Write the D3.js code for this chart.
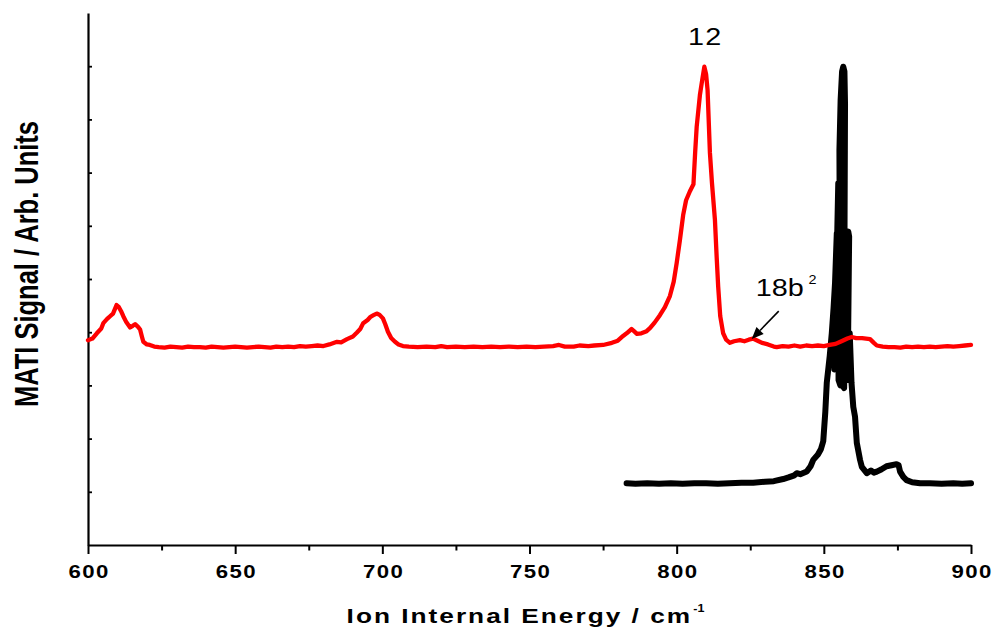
<!DOCTYPE html>
<html>
<head>
<meta charset="utf-8">
<script src="https://cdn.jsdelivr.net/npm/d3@7"></script>
<style>
  html, body { margin: 0; padding: 0; background: #fff; }
  svg { display: block; }
  text { font-family: "Liberation Sans", Arial, Helvetica, sans-serif; fill: #000; }
</style>
</head>
<body>
<svg id="chart" width="992" height="630"></svg>
<script>
// ---- data -------------------------------------------------------------
// Red trace: MATI spectrum, [energy (cm^-1), signal (arb.)]
const redSpectrum = [
  [600,3.85],[601.5,3.88],[603,3.98],[604.5,4.07],[605.2,4.17],[606.5,4.25],[607.5,4.30],[608.5,4.35],
  [609.7,4.51],[610.5,4.47],[611.2,4.40],[612,4.30],[613,4.19],[614.3,4.09],[615.2,4.12],[616,4.15],
  [617,4.10],[617.7,4.05],[618.3,3.92],[618.8,3.82],[620,3.77],[621,3.76],[622.5,3.73],[624,3.72],
  [626,3.71],[628,3.73],[630,3.72],[632,3.71],[634,3.73],[636,3.72],[638,3.72],[640,3.71],[642,3.73],
  [644,3.72],[646,3.71],[648,3.72],[650,3.73],[652,3.72],[654,3.71],[656,3.72],[658,3.73],[660,3.72],
  [662,3.71],[664,3.73],[666,3.72],[668,3.73],[670,3.72],[672,3.74],[674,3.73],[676,3.74],[678,3.75],
  [680,3.74],[682,3.77],[684.6,3.82],[686,3.81],[688,3.87],[690,3.92],[691.3,3.99],[692.5,4.06],
  [693.5,4.17],[695,4.23],[696,4.29],[697,4.32],[698.1,4.35],[699,4.33],[700.2,4.26],[701,4.15],
  [701.9,4.01],[703,3.89],[704.3,3.82],[705.5,3.77],[707,3.74],[709,3.73],[712,3.72],[715,3.73],
  [718,3.72],[720,3.74],[722,3.72],[725,3.73],[728,3.72],[731,3.73],[734,3.72],[737,3.73],[740,3.72],
  [743,3.73],[746,3.72],[749,3.73],[752,3.72],[755,3.73],[758,3.74],[760,3.76],[762,3.73],[765,3.73],
  [767,3.75],[770,3.74],[772,3.75],[775,3.76],[778,3.80],[780,3.84],[781.8,3.93],[783,3.98],
  [784.7,4.06],[785.5,4.02],[786.5,3.97],[788,3.98],[789.8,4.02],[791,4.08],[792.5,4.18],[794.3,4.32],
  [796,4.47],[797.7,4.68],[799,4.95],[800,5.30],[801.1,5.73],[802.2,6.20],[803.2,6.48],[804.5,6.65],
  [805.7,6.78],[806.3,7.40],[806.8,7.86],[807.9,8.46],[808.7,8.75],[809.4,8.99],[810,8.85],[810.5,8.55],
  [811.3,7.37],[812,6.80],[813,6.11],[813.6,5.40],[814.1,4.86],[814.8,4.30],[815.8,3.98],[816.8,3.86],
  [818.1,3.80],[819.5,3.83],[821.5,3.85],[823,3.83],[824.5,3.86],[825.9,3.88],[827.5,3.84],[829,3.80],
  [831,3.77],[833,3.73],[834,3.72],[836,3.74],[838,3.73],[840,3.75],[842,3.73],[844,3.75],[846,3.74],
  [848,3.75],[850,3.74],[852,3.76],[854,3.78],[856,3.83],[858,3.88],[859.5,3.91],[861,3.89],[863,3.89],
  [865.7,3.87],[867,3.80],[868,3.75],[870,3.73],[872,3.72],[874,3.72],[876,3.71],[878,3.73],[880,3.72],
  [882,3.73],[884,3.72],[886,3.73],[888,3.72],[890,3.73],[892,3.74],[894,3.73],[896,3.74],[898,3.75],
  [900,3.76]
];

// Black trace: second MATI scan (overlapping passes around the strong band)
const blackSpectrum = [
  [783,1.16],[786,1.15],[790,1.16],[794,1.15],[798,1.16],[802,1.15],[806,1.16],[810,1.16],[814,1.15],
  [818,1.16],[822,1.17],[826,1.17],[830,1.19],[833,1.20],[836.2,1.24],[838,1.27],[840,1.31],[840.8,1.35],
  [842,1.33],[844.2,1.38],[845.5,1.48],[846.4,1.60],[848,1.70],[849,1.80],[849.8,1.95],[850.5,2.50],
  [851.0,3.05],[852.0,3.55],[852.7,3.98],[853.3,4.45],[853.8,4.92],[854.4,5.86],[854.3,3.60],[853.6,3.30],
  [854.9,6.80],[855.0,3.10],[855.6,3.00],[855.3,7.42],[855.7,8.36],[856.2,8.90],[856.6,8.99],[857.0,8.90],
  [857.2,8.30],[857.0,5.50],[856.3,3.00],[856.9,2.95],[857.6,5.90],[858.3,5.89],[858.6,5.80],[858.1,3.10],
  [858.8,3.98],[859.4,3.05],[860.0,2.60],[860.6,2.41],[861.2,1.92],[862.3,1.60],[862.9,1.47],[864.6,1.35],
  [866,1.40],[867,1.36],[868,1.38],[869.5,1.42],[871.3,1.48],[873,1.50],[874.7,1.52],[875.4,1.50],
  [875.9,1.38],[877,1.28],[878.1,1.22],[880,1.18],[882.7,1.16],[886,1.16],[890,1.15],[894,1.16],
  [897,1.15],[900,1.16]
];

const xMajorTicks = [600, 650, 700, 750, 800, 850, 900];
const xMinorTicks = [625, 675, 725, 775, 825, 875];
const yTicks = [1, 2, 3, 4, 5, 6, 7, 8, 9];

const xTitle = "Ion Internal Energy / cm";
const xTitleSup = "-1";
const yTitle = "MATI Signal / Arb. Units";

// peak labels: [energy, signal] of the labelled point
const peak12 = { text: "12", at: [809.4, 8.99] };
const peak18b = { text: "18b", sup: "2", at: [825.5, 3.87] };

// ---- layout -----------------------------------------------------------
const margin = { left: 88, right: 21, top: 13, bottom: 85 };
const W = 992, H = 630;

const svg = d3.select("#chart");

const x = d3.scaleLinear().domain([600, 900]).range([margin.left, W - margin.right]);
const y = d3.scaleLinear().domain([0, 10]).range([H - margin.bottom, margin.top]);

// ---- axes -------------------------------------------------------------
const gx = svg.append("g").attr("transform", `translate(0,${y(0)})`);
gx.call(d3.axisBottom(x).tickValues(xMajorTicks).tickSize(9).tickSizeOuter(0).tickFormat(d3.format("d")));
gx.select(".domain").attr("stroke-width", 2.2);
gx.selectAll(".tick line").attr("stroke-width", 2);
gx.selectAll(".tick text")
  .attr("y", 33).attr("dy", 0).attr("dx", 0.6)
  .attr("transform", "scale(1.2,1)")
  .style("font-size", "18.5px").style("font-weight", "bold").style("letter-spacing", "1.2px");

const gxMinor = svg.append("g").attr("transform", `translate(0,${y(0)})`);
gxMinor.call(d3.axisBottom(x).tickValues(xMinorTicks).tickSize(5.5).tickSizeOuter(0).tickFormat(""));
gxMinor.select(".domain").remove();
gxMinor.selectAll(".tick line").attr("stroke-width", 2);

const gy = svg.append("g").attr("transform", `translate(${x(600)},0)`);
gy.call(d3.axisLeft(y).tickValues(yTicks).tickSize(-4).tickSizeOuter(0).tickFormat(""));
gy.select(".domain").attr("stroke-width", 2.2);
gy.selectAll(".tick line").attr("stroke-width", 1.8);

// ---- axis titles ------------------------------------------------------
const xt = svg.append("text")
  .attr("transform", `translate(${(x(600) + x(900)) / 2 - 4},623) scale(1.25,1)`)
  .attr("text-anchor", "middle")
  .style("font-size", "21px").style("font-weight", "bold").style("letter-spacing", "1.6px");
xt.append("tspan").text(xTitle);
xt.append("tspan").attr("dx", 1).attr("dy", -11).style("font-size", "10px").style("letter-spacing", "0px").text(xTitleSup);

svg.append("text")
  .attr("transform", `translate(38,264) scale(1.3,1) rotate(-90)`)
  .attr("text-anchor", "middle")
  .style("font-size", "25.5px").style("font-weight", "bold")
  .text(yTitle);

// ---- traces -----------------------------------------------------------
const line = d3.line().x(d => x(d[0])).y(d => y(d[1]));

svg.append("path")
  .datum(blackSpectrum)
  .attr("d", line)
  .attr("fill", "none")
  .attr("stroke", "#000")
  .attr("stroke-width", 6)
  .attr("stroke-linejoin", "round")
  .attr("stroke-linecap", "round");

svg.append("path")
  .datum(redSpectrum)
  .attr("d", line)
  .attr("fill", "none")
  .attr("stroke", "#ff0000")
  .attr("stroke-width", 4.3)
  .attr("stroke-linejoin", "round")
  .attr("stroke-linecap", "round");

// ---- annotations ------------------------------------------------------
svg.append("text")
  .attr("transform", `translate(${x(peak12.at[0]) + 1},${y(peak12.at[1]) - 22}) scale(1.2,1)`)
  .attr("text-anchor", "middle")
  .style("font-size", "24px").style("letter-spacing", "1px")
  .text(peak12.text);

const tipX = x(peak18b.at[0]), tipY = y(peak18b.at[1]);
const tailX = tipX + 27, tailY = tipY - 28;
const ang = Math.atan2(tipY - tailY, tipX - tailX);
const headLen = 12, headHalf = 5;
const baseX = tipX - headLen * Math.cos(ang), baseY = tipY - headLen * Math.sin(ang);

svg.append("line")
  .attr("x1", tailX).attr("y1", tailY).attr("x2", baseX).attr("y2", baseY)
  .attr("stroke", "#000").attr("stroke-width", 1.6);
svg.append("path")
  .attr("d", d3.line()([
    [tipX, tipY],
    [baseX + headHalf * Math.sin(ang), baseY - headHalf * Math.cos(ang)],
    [baseX - headHalf * Math.sin(ang), baseY + headHalf * Math.cos(ang)]
  ]) + "Z")
  .attr("fill", "#000");

const t18 = svg.append("text")
  .attr("transform", `translate(${tailX - 23},${tailY - 15}) scale(1.2,1)`)
  .style("font-size", "24px");
t18.append("tspan").text(peak18b.text);
t18.append("tspan").attr("dx", 4).attr("dy", -12.5).style("font-size", "12px").text(peak18b.sup);
</script>
</body>
</html>
